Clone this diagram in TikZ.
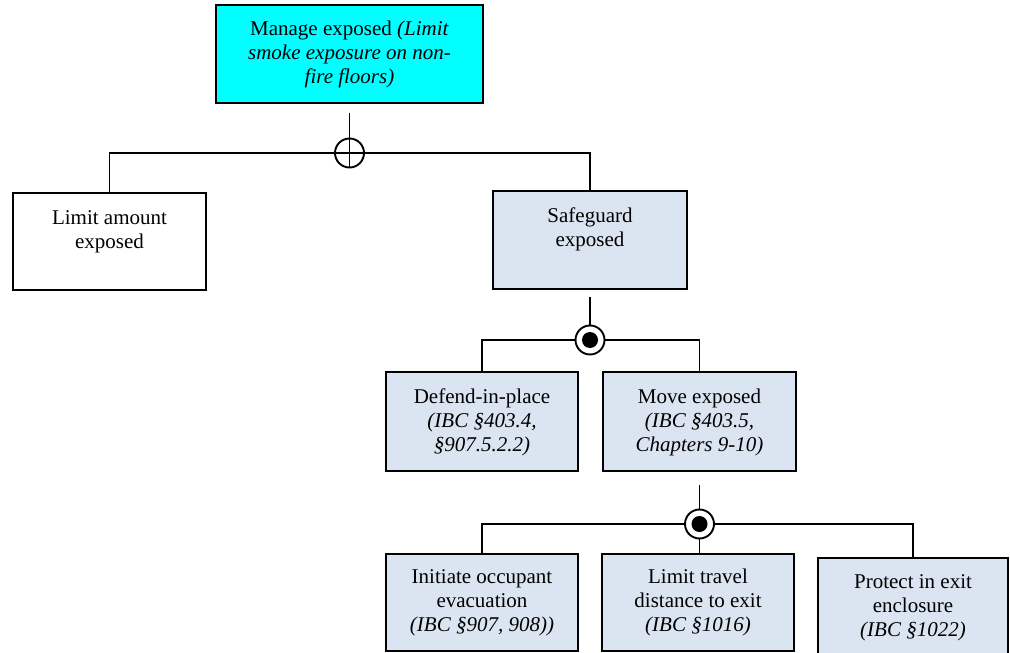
\documentclass[tikz,border=0pt]{standalone}
\usepackage{fontspec}
\setmainfont{Liberation Serif}
\definecolor{boxblue}{HTML}{DBE5F1}
\definecolor{topcyan}{HTML}{00FFFF}
\newcommand{\mlines}[1]{\begin{tabular}[t]{@{}c@{}}#1\end{tabular}}
\begin{document}
\begin{tikzpicture}[x=1pt,y=-1pt,
  box/.style={draw, line width=2pt, inner sep=0pt, fill=boxblue},
  txt/.style={font=\fontsize{21}{24}\selectfont, inner sep=0pt, anchor=base},
  conn/.style={line width=1.8pt},
  orgate/.style={circle, draw, line width=1.9pt, minimum size=29pt, inner sep=0pt},
  andgate/.style={circle, draw, line width=1.9pt, fill=white, minimum size=29pt, inner sep=0pt}]
\useasboundingbox (0,0) rectangle (1010,653);
\clip (0,0) rectangle (1010,653);
\fill[white] (0,0) rectangle (1010,653);

% boxes
\node[box, fill=topcyan, minimum width=267pt, minimum height=98pt] (mg) at (349.5,54) {};
\node[box, fill=white, minimum width=193pt, minimum height=97pt] (lim) at (109.5,241.5) {};
\node[box, minimum width=194pt, minimum height=98pt] (saf) at (590,240) {};
\node[box, minimum width=192pt, minimum height=99pt] (def) at (482,421.5) {};
\node[box, minimum width=193pt, minimum height=99pt] (mov) at (699.5,421.5) {};
\node[box, minimum width=192pt, minimum height=97pt] (ini) at (482,602.5) {};
\node[box, minimum width=192pt, minimum height=97pt] (ltr) at (698,602.5) {};
\node[box, minimum width=190pt, minimum height=102pt] (pro) at (913,609) {};

% texts
\node[txt] (mgt) at (349.5,35) {\mlines{Manage exposed \textit{(Limit}\\\textit{smoke exposure on non-}\\\textit{fire floors)}}};
\node[txt] (limt) at (109.5,224) {\mlines{Limit amount\\exposed}};
\node[txt] (saft) at (590,222) {\mlines{Safeguard\\exposed}};
\node[txt] (deft) at (482,403) {\mlines{Defend-in-place\\\textit{(IBC §403.4,}\\\textit{§907.5.2.2)}}};
\node[txt] (movt) at (699.5,403) {\mlines{Move exposed\\\textit{(IBC §403.5,}\\\textit{Chapters 9-10)}}};
\node[txt] (init) at (482,583) {\mlines{Initiate occupant\\evacuation\\\textit{(IBC §907, 908))}}};
\node[txt] (ltrt) at (698,583) {\mlines{Limit travel\\distance to exit\\\textit{(IBC §1016)}}};
\node[txt] (prot) at (913,588) {\mlines{Protect in exit\\enclosure\\\textit{(IBC §1022)}}};

% gates
\node[orgate] (or1) at (349.5,153) {};
\node[andgate] (and1) at (590,340) {};
\node[andgate] (and2) at (699.5,524) {};
\fill (and1) circle (8pt);
\fill (and2) circle (8pt);

% connectors
\draw[conn, shorten <=9pt] (mg.south) -- (or1.north);
\draw[conn] (or1.west) -| (lim.north);
\draw[conn] (or1.east) -| (saf.north);
\draw[conn] (or1.west) -- (or1.east);
\draw[conn] (or1.north) -- (or1.south);

\draw[conn, shorten <=7pt] (saf.south) -- (and1.north);
\draw[conn] (and1.west) -| (def.north);
\draw[conn] (and1.east) -| (mov.north);

\draw[conn, shorten <=13pt] (mov.south) -- (and2.north);
\draw[conn] (and2.west) -| (ini.north);
\draw[conn] (and2.east) -| (pro.north);
\draw[conn] (and2.south) -- (and2.south |- ltr.north);
\end{tikzpicture}
\end{document}
